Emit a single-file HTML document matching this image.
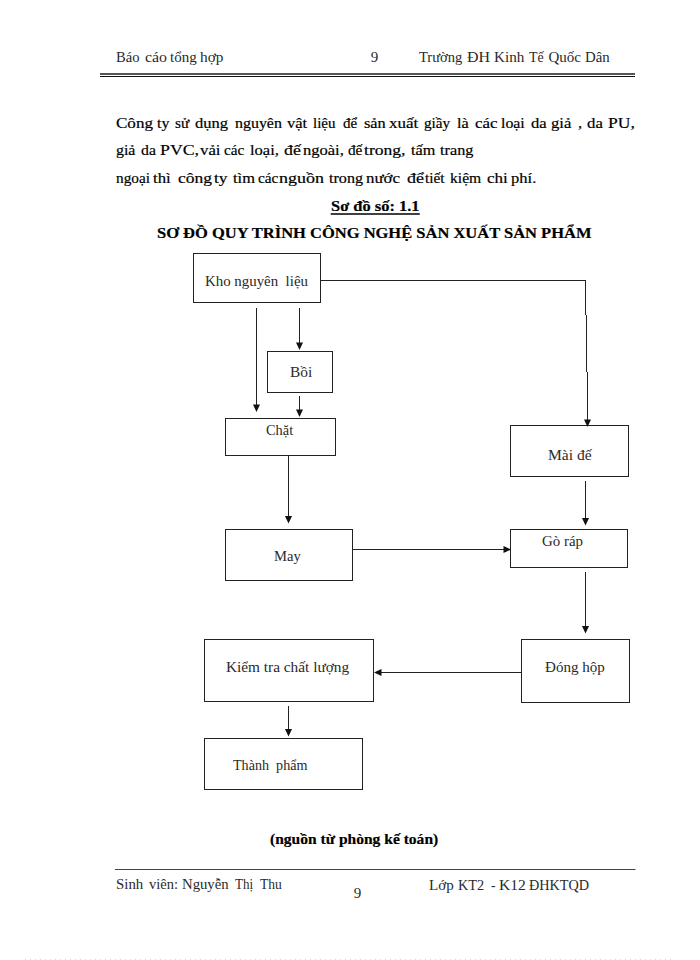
<!DOCTYPE html>
<html><head><meta charset="utf-8">
<style>
html,body{margin:0;padding:0;background:#fff;}
body{width:700px;height:960px;position:relative;overflow:hidden;font-family:"Liberation Serif",serif;color:#2a2a2a;}
.t{position:absolute;white-space:pre;line-height:1;transform-origin:0 0;}
.b{font-weight:bold;color:#000;-webkit-text-stroke:0.2px #000;}
.bd{color:#000;-webkit-text-stroke:0.2px #000;}
svg{position:absolute;left:0;top:0;}
</style></head><body>
<div class="t" style="left:116.01px;top:50.15px;font-size:15.0px;transform:scaleX(0.9720);">Báo</div>
<div class="t" style="left:145.17px;top:50.15px;font-size:15.0px;transform:scaleX(1.0582);">cáo</div>
<div class="t" style="left:170.00px;top:50.15px;font-size:15.0px;transform:scaleX(1.0038);">tổng</div>
<div class="t" style="left:199.74px;top:50.15px;font-size:15.0px;transform:scaleX(1.0247);">hợp</div>
<div class="t" style="left:370.75px;top:50.05px;font-size:15.0px;">9</div>
<div class="t" style="left:419.16px;top:50.05px;font-size:15.0px;transform:scaleX(0.9695);">Trường</div>
<div class="t" style="left:467.13px;top:50.05px;font-size:15.0px;transform:scaleX(1.0619);">ĐH</div>
<div class="t" style="left:493.79px;top:50.05px;font-size:15.0px;transform:scaleX(1.0120);">Kinh</div>
<div class="t" style="left:528.77px;top:50.05px;font-size:15.0px;transform:scaleX(0.9270);">Tế</div>
<div class="t" style="left:548.50px;top:50.05px;font-size:15.0px;">Quốc</div>
<div class="t" style="left:584.51px;top:50.05px;font-size:15.0px;transform:scaleX(0.9897);">Dân</div>
<div class="t bd" style="left:116.20px;top:115.44px;font-size:15.5px;transform:scaleX(1.0992);">Công</div>
<div class="t bd" style="left:157.40px;top:115.44px;font-size:15.5px;transform:scaleX(1.0250);">ty</div>
<div class="t bd" style="left:175.26px;top:115.44px;font-size:15.5px;transform:scaleX(0.9828);">sử</div>
<div class="t bd" style="left:195.47px;top:115.44px;font-size:15.5px;transform:scaleX(1.0661);">dụng</div>
<div class="t bd" style="left:234.74px;top:115.44px;font-size:15.5px;transform:scaleX(1.0276);">nguyên</div>
<div class="t bd" style="left:287.00px;top:115.44px;font-size:15.5px;transform:scaleX(1.0667);">vật</div>
<div class="t bd" style="left:312.63px;top:115.44px;font-size:15.5px;transform:scaleX(0.9656);">liệu</div>
<div class="t bd" style="left:343.01px;top:115.44px;font-size:15.5px;transform:scaleX(0.9656);">để</div>
<div class="t bd" style="left:363.98px;top:115.44px;font-size:15.5px;transform:scaleX(1.0500);">sản</div>
<div class="t bd" style="left:388.50px;top:115.44px;font-size:15.5px;transform:scaleX(1.0943);">xuất</div>
<div class="t bd" style="left:423.51px;top:115.44px;font-size:15.5px;transform:scaleX(0.9808);">giầy</div>
<div class="t bd" style="left:456.99px;top:115.44px;font-size:15.5px;transform:scaleX(1.0465);">là</div>
<div class="t bd" style="left:475.46px;top:115.44px;font-size:15.5px;transform:scaleX(1.0886);">các</div>
<div class="t bd" style="left:500.99px;top:115.44px;font-size:15.5px;transform:scaleX(1.0220);">loại</div>
<div class="t bd" style="left:531.46px;top:115.44px;font-size:15.5px;transform:scaleX(1.0714);">da</div>
<div class="t bd" style="left:551.45px;top:115.44px;font-size:15.5px;transform:scaleX(1.0694);">giả</div>
<div class="t bd" style="left:578.46px;top:115.44px;font-size:15.5px;transform:scaleX(1.0495);">,</div>
<div class="t bd" style="left:587.06px;top:115.44px;font-size:15.5px;transform:scaleX(1.0821);">da</div>
<div class="t bd" style="left:607.57px;top:115.44px;font-size:15.5px;transform:scaleX(1.1335);">PU,</div>
<div class="t bd" style="left:115.53px;top:142.44px;font-size:15.5px;transform:scaleX(1.0250);">giả</div>
<div class="t bd" style="left:140.99px;top:142.44px;font-size:15.5px;transform:scaleX(1.0179);">da</div>
<div class="t bd" style="left:159.77px;top:142.44px;font-size:15.5px;transform:scaleX(1.1480);">PVC,</div>
<div class="t bd" style="left:199.70px;top:142.44px;font-size:15.5px;transform:scaleX(1.0827);">vải</div>
<div class="t bd" style="left:224.10px;top:142.44px;font-size:15.5px;transform:scaleX(0.9779);">các</div>
<div class="t bd" style="left:250.48px;top:142.44px;font-size:15.5px;transform:scaleX(1.0673);">loại,</div>
<div class="t bd" style="left:284.23px;top:142.44px;font-size:15.5px;transform:scaleX(1.1480);">đế</div>
<div class="t bd" style="left:303.03px;top:142.44px;font-size:15.5px;transform:scaleX(1.0662);">ngoài,</div>
<div class="t bd" style="left:348.26px;top:142.44px;font-size:15.5px;transform:scaleX(0.9828);">đế</div>
<div class="t bd" style="left:363.75px;top:142.44px;font-size:15.5px;transform:scaleX(1.1338);">trong,</div>
<div class="t bd" style="left:410.75px;top:142.44px;font-size:15.5px;transform:scaleX(1.0435);">tấm</div>
<div class="t bd" style="left:440.00px;top:142.44px;font-size:15.5px;transform:scaleX(1.0476);">trang</div>
<div class="t bd" style="left:115.62px;top:170.23px;font-size:15.5px;transform:scaleX(0.9873);">ngoại</div>
<div class="t bd" style="left:152.75px;top:170.23px;font-size:15.5px;transform:scaleX(1.0781);">thì</div>
<div class="t bd" style="left:178.44px;top:170.23px;font-size:15.5px;transform:scaleX(1.1282);">công</div>
<div class="t bd" style="left:214.00px;top:170.23px;font-size:15.5px;transform:scaleX(1.1250);">ty</div>
<div class="t bd" style="left:232.75px;top:170.23px;font-size:15.5px;transform:scaleX(1.0610);">tìm</div>
<div class="t bd" style="left:257.76px;top:170.23px;font-size:15.5px;transform:scaleX(0.9873);">các</div>
<div class="t bd" style="left:278.79px;top:170.23px;font-size:15.5px;transform:scaleX(1.1590);">nguồn</div>
<div class="t bd" style="left:329.25px;top:170.23px;font-size:15.5px;transform:scaleX(1.0385);">trong</div>
<div class="t bd" style="left:366.48px;top:170.23px;font-size:15.5px;transform:scaleX(1.0902);">nước</div>
<div class="t bd" style="left:406.56px;top:170.23px;font-size:15.5px;transform:scaleX(1.1590);">để</div>
<div class="t bd" style="left:425.00px;top:170.23px;font-size:15.5px;transform:scaleX(0.9873);">tiết</div>
<div class="t bd" style="left:450.25px;top:170.23px;font-size:15.5px;transform:scaleX(1.0082);">kiệm</div>
<div class="t bd" style="left:487.45px;top:170.23px;font-size:15.5px;transform:scaleX(1.0959);">chi</div>
<div class="t bd" style="left:510.73px;top:170.23px;font-size:15.5px;transform:scaleX(1.0667);">phí.</div>
<div class="t b" style="left:330.51px;top:197.83px;font-size:15.5px;transform:scaleX(1.0598);">Sơ đồ số: 1.1</div>
<div class="t b" style="left:156.90px;top:225.03px;font-size:15.5px;transform:scaleX(1.0640);">SƠ ĐỒ QUY TRÌNH CÔNG NGHỆ SẢN XUẤT SẢN PHẨM</div>
<div class="t" style="left:204.90px;top:273.65px;font-size:15.0px;transform:scaleX(0.9922);">Kho nguyên  liệu</div>
<div class="t" style="left:290.39px;top:364.65px;font-size:15.0px;transform:scaleX(1.0286);">Bồi</div>
<div class="t" style="left:265.52px;top:423.25px;font-size:15.0px;transform:scaleX(0.9586);">Chặt</div>
<div class="t" style="left:548.48px;top:447.55px;font-size:15.0px;transform:scaleX(1.0395);">Mài đế</div>
<div class="t" style="left:273.91px;top:548.55px;font-size:15.0px;transform:scaleX(0.9741);">May</div>
<div class="t" style="left:541.50px;top:533.55px;font-size:15.0px;transform:scaleX(0.9938);">Gò ráp</div>
<div class="t" style="left:225.69px;top:660.15px;font-size:15.0px;transform:scaleX(1.0205);">Kiểm tra chất lượng</div>
<div class="t" style="left:544.75px;top:659.55px;font-size:15.0px;transform:scaleX(1.0043);">Đóng hộp</div>
<div class="t" style="left:232.76px;top:758.15px;font-size:15.0px;transform:scaleX(0.9410);">Thành  phẩm</div>
<div class="t b" style="left:270.15px;top:830.63px;font-size:15.5px;transform:scaleX(1.0024);">(nguồn từ phòng kế toán)</div>
<div class="t" style="left:115.91px;top:877.25px;font-size:15.0px;transform:scaleX(0.9905);">Sinh</div>
<div class="t" style="left:148.60px;top:877.25px;font-size:15.0px;transform:scaleX(0.9670);">viên:</div>
<div class="t" style="left:181.71px;top:877.25px;font-size:15.0px;transform:scaleX(0.9818);">Nguyễn</div>
<div class="t" style="left:235.01px;top:877.25px;font-size:15.0px;transform:scaleX(0.8667);">Thị</div>
<div class="t" style="left:260.47px;top:877.25px;font-size:15.0px;transform:scaleX(0.9011);">Thu</div>
<div class="t" style="left:353.70px;top:886.45px;font-size:15.0px;">9</div>
<div class="t" style="left:428.80px;top:877.55px;font-size:15.0px;transform:scaleX(1.0043);">Lớp</div>
<div class="t" style="left:458.12px;top:877.55px;font-size:15.0px;transform:scaleX(0.9524);">KT2</div>
<div class="t" style="left:490.95px;top:877.55px;font-size:15.0px;transform:scaleX(0.9000);">-</div>
<div class="t" style="left:498.98px;top:877.55px;font-size:15.0px;transform:scaleX(1.0408);">K12</div>
<div class="t" style="left:529.06px;top:877.55px;font-size:15.0px;transform:scaleX(0.9488);">ĐHKTQD</div>
<svg width="700" height="960" viewBox="0 0 700 960">
<g stroke="#222" stroke-width="1" fill="none">
<line x1="100" y1="74" x2="635" y2="74" stroke-width="2" stroke="#555"/>
<line x1="100" y1="76.5" x2="635" y2="76.5" stroke="#111"/>
<line x1="115" y1="869.5" x2="635.5" y2="869.5" stroke="#444"/>
<rect x="193.5" y="253.5" width="127" height="49"/>
<rect x="267.5" y="351.5" width="65" height="41"/>
<rect x="225.5" y="418.5" width="110" height="37"/>
<rect x="510.5" y="425.5" width="118" height="51"/>
<rect x="225.5" y="529.5" width="127" height="51"/>
<rect x="510.5" y="529.5" width="117" height="38"/>
<rect x="521.5" y="639.5" width="108" height="63"/>
<rect x="204.5" y="639.5" width="169" height="62"/>
<rect x="204.5" y="738.5" width="158" height="51"/>
<line x1="321" y1="280.5" x2="586" y2="280.5"/>
<line x1="585.5" y1="280" x2="585.5" y2="315"/>
<line x1="586.5" y1="315" x2="586.5" y2="372"/>
<line x1="587.5" y1="372" x2="587.5" y2="421"/>
<line x1="256.5" y1="308" x2="256.5" y2="406"/>
<line x1="299.5" y1="308" x2="299.5" y2="344"/>
<line x1="299.5" y1="396" x2="299.5" y2="411"/>
<line x1="288.5" y1="456" x2="288.5" y2="517.5"/>
<line x1="353" y1="549.5" x2="505" y2="549.5"/>
<line x1="585.5" y1="481" x2="585.5" y2="519.5"/>
<line x1="585.5" y1="572" x2="585.5" y2="627.5"/>
<line x1="380" y1="672.5" x2="521" y2="672.5"/>
<line x1="288.5" y1="706" x2="288.5" y2="730.5"/>
</g>
<g fill="#111" stroke="none"><polygon points="584,419.5 591,419.5 587.5,427"/><polygon points="253,404.5 260,404.5 256.5,412"/><polygon points="296,342.5 303,342.5 299.5,350"/><polygon points="296,409.5 303,409.5 299.5,417"/><polygon points="285,516.0 292,516.0 288.5,523.5"/><polygon points="503.5,546 503.5,553 511,549.5"/><polygon points="582,518.0 589,518.0 585.5,525.5"/><polygon points="582,626.0 589,626.0 585.5,633.5"/><polygon points="381.5,669 381.5,676 374,672.5"/><polygon points="285,729.0 292,729.0 288.5,736.5"/></g>
<line x1="330.7" y1="214" x2="419.8" y2="214" stroke="#000" stroke-width="1.3"/>
<line x1="25" y1="959.5" x2="671" y2="959.5" stroke="#f2c4f2" stroke-width="1" stroke-dasharray="1 4"/>
</svg>
</body></html>
